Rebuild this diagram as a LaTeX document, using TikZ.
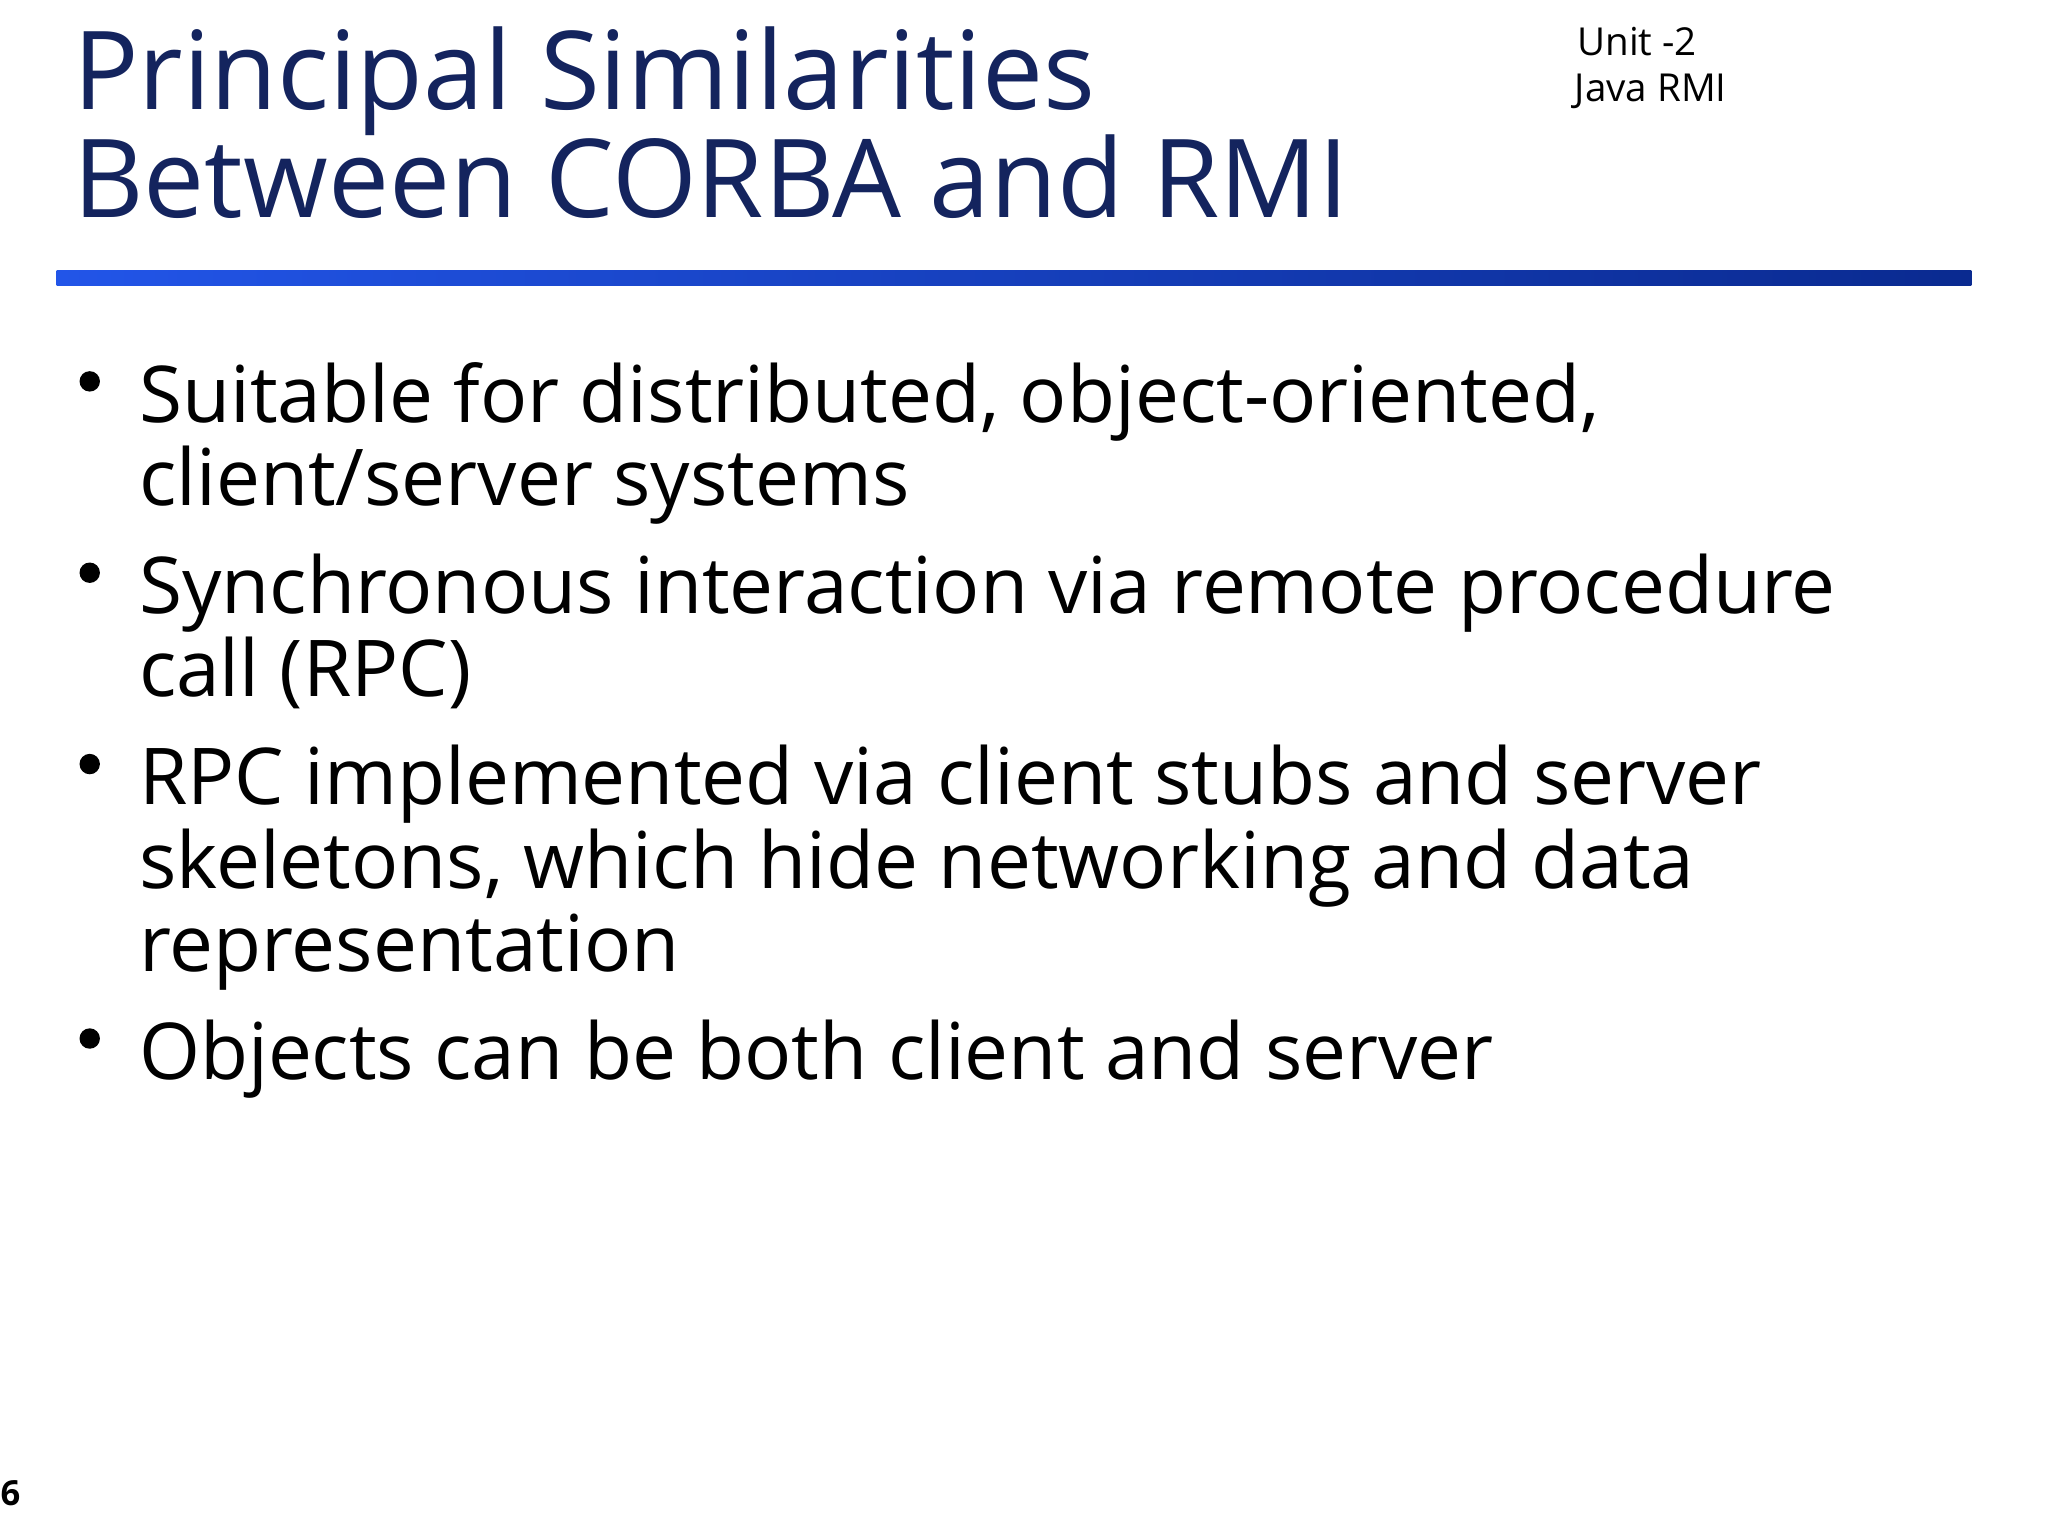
\documentclass[tikz,border=0pt]{standalone}
\usepackage{fontspec}
\setmainfont{Open Sans}
\definecolor{titleblue}{HTML}{14245E}
\definecolor{barleft}{HTML}{2255E8}
\definecolor{barright}{HTML}{0A2A90}
\tikzset{
  title/.style={anchor=base west,inner sep=0pt,text=titleblue,font=\fontsize{41}{41}\selectfont},
  unit/.style={anchor=base west,inner sep=0pt,font=\fontsize{14.5}{14.5}\selectfont},
  item/.style={anchor=base west,inner sep=0pt,font=\fontsize{29.5}{31}\selectfont},
  dot/.style={circle,fill=black,inner sep=0pt,minimum size=.27cm}
}
\begin{document}
\begin{tikzpicture}[x=0.01746cm,y=-0.01746cm]
	\useasboundingbox (0,0) rectangle (1552,1164);

	% heading
	\node (t1)	at	(55,83)		[title]{Principal Similarities};
	\node (t2)	at	(55,165)	[title]{Between CORBA and RMI};
	\node (u1)	at	(1195,42)	[unit]{Unit -2};
	\node (u2)	at	(1193,77)	[unit]{Java RMI};
	\shade[left color=barleft,right color=barright] (43,205) rectangle (1494,216);

	% bullets
	\node (d1)	at	(68,289)	[dot]{};
	\node (b1)	at	(105,320)	[item]{Suitable for distributed, object-oriented,};
	\node (b1a)	at	(105,383)	[item]{client/server systems};
	\node (d2)	at	(68,434)	[dot]{};
	\node (b2)	at	(105,465)	[item]{Synchronous interaction via remote procedure};
	\node (b2a)	at	(105,528)	[item]{call (RPC)};
	\node (d3)	at	(68,579)	[dot]{};
	\node (b3)	at	(105,610)	[item]{RPC implemented via client stubs and server};
	\node (b3a)	at	(105,673)	[item]{skeletons, which hide networking and data};
	\node (b3b)	at	(105,736)	[item]{representation};
	\node (d4)	at	(68,787)	[dot]{};
	\node (b4)	at	(105,818)	[item]{Objects can be both client and server};

	% page number
	\node (pg)	at	(0,1141)	[anchor=base west,inner sep=0pt,font=\bfseries\fontsize{13}{13}\selectfont]{6};
\end{tikzpicture}
\end{document}
